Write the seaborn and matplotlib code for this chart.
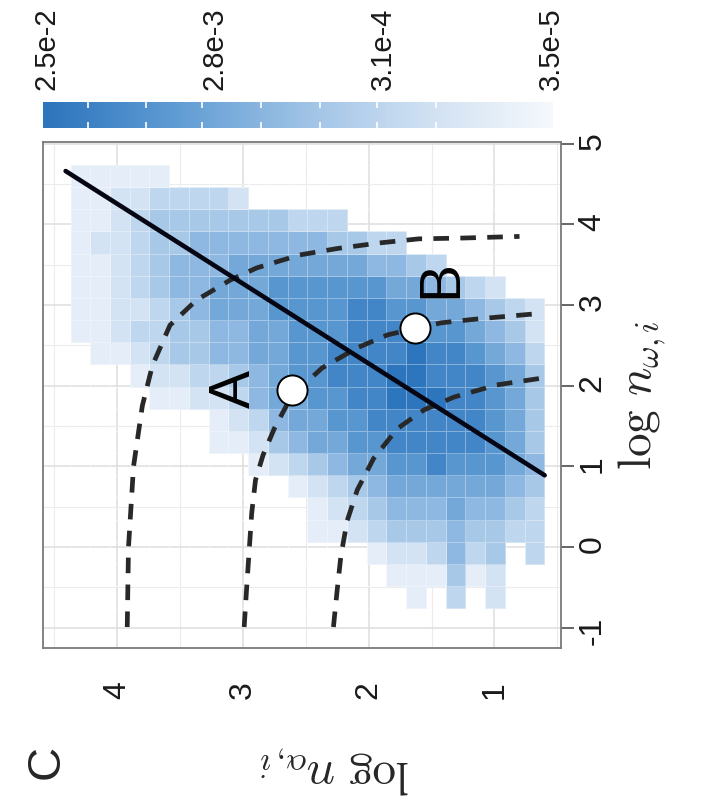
import numpy as np
import pandas as pd
import matplotlib
matplotlib.use("Agg")
import matplotlib.pyplot as plt
import seaborn as sns
from matplotlib.colors import LinearSegmentedColormap, Normalize
from matplotlib.ticker import MultipleLocator

# ---------------- data ----------------
# bin edges of the 2-D histogram (log n_alpha, log n_omega)
alpha_edges = [0.603, 0.760, 0.917, 1.074, 1.231, 1.388, 1.545, 1.702, 1.859,
               2.016, 2.173, 2.330, 2.487, 2.644, 2.801, 2.958, 3.115, 3.272,
               3.429, 3.586, 3.743, 3.900, 4.057, 4.214, 4.371]
omega_edges = [-0.756, -0.482, -0.207, 0.067, 0.342, 0.617, 0.891, 1.166,
               1.440, 1.715, 1.989, 2.264, 2.538, 2.813, 3.087, 3.362, 3.636,
               3.911, 4.185, 4.460, 4.734]

# intensity level per cell (0 = empty, 9 = darkest)
# rows: highest omega first; columns: highest alpha first
levels = [
    [1,1,1,1,1,0,0,0,0,0,0,0,0,0,0,0,0,0,0,0,0,0,0,0],
    [1,1,2,2,3,3,3,3,2,0,0,0,0,0,0,0,0,0,0,0,0,0,0,0],
    [1,1,2,3,4,4,4,4,4,4,4,3,3,3,0,0,0,0,0,0,0,0,0,0],
    [1,2,2,3,4,4,5,5,5,5,5,5,5,4,4,3,3,0,0,0,0,0,0,0],
    [1,1,2,3,4,5,5,5,6,6,6,6,6,6,6,5,5,4,3,0,0,0,0,0],
    [1,1,2,3,4,5,5,6,6,6,7,7,7,7,7,7,6,6,5,4,3,2,0,0],
    [1,1,2,2,3,4,5,6,6,6,7,7,7,7,8,8,7,7,6,6,5,4,3,2],
    [1,1,2,3,3,4,4,5,5,6,6,7,7,7,8,8,8,8,7,7,6,5,4,2],
    [0,1,1,2,3,4,4,5,5,6,6,7,7,8,8,8,8,9,8,8,7,6,5,3],
    [0,0,0,1,2,2,3,3,4,5,6,7,7,8,8,8,9,9,8,8,8,7,6,4],
    [0,0,0,0,1,1,2,2,3,5,6,6,7,7,8,8,9,9,9,8,8,7,6,4],
    [0,0,0,0,0,0,0,1,2,3,5,6,6,7,7,8,8,8,8,8,8,7,6,4],
    [0,0,0,0,0,0,0,1,1,2,4,5,6,6,7,7,8,8,8,8,8,7,6,4],
    [0,0,0,0,0,0,0,0,0,1,2,3,4,5,6,6,7,7,8,7,7,7,6,5],
    [0,0,0,0,0,0,0,0,0,0,0,1,2,3,4,5,6,6,6,6,6,6,5,4],
    [0,0,0,0,0,0,0,0,0,0,0,0,1,2,3,4,5,5,5,6,5,5,4,3],
    [0,0,0,0,0,0,0,0,0,0,0,0,1,1,2,3,4,4,4,5,4,4,3,3],
    [0,0,0,0,0,0,0,0,0,0,0,0,0,0,0,1,2,2,3,5,3,4,0,3],
    [0,0,0,0,0,0,0,0,0,0,0,0,0,0,0,0,1,1,1,4,1,2,0,0],
    [0,0,0,0,0,0,0,0,0,0,0,0,0,0,0,0,0,1,0,3,0,2,0,0],
]

# colour scale: log10 density at level 0 and level 9
log_dens_min = -4.46
log_dens_max = -1.60

# solid diagonal line
line_alpha = [0.60, 4.41]
line_omega = [0.89, 4.66]

# dashed curves
curve1_alpha = [3.92, 3.91, 3.87, 3.80, 3.72, 3.58, 3.37, 3.10, 2.89, 2.55,
                2.25, 1.91, 1.60, 1.25, 0.80]
curve1_omega = [-0.99, 0.00, 1.00, 1.75, 2.25, 2.75, 3.06, 3.31, 3.46, 3.62,
                3.70, 3.77, 3.82, 3.83, 3.85]
curve2_alpha = [2.99, 2.97, 2.95, 2.93, 2.90, 2.84, 2.75, 2.61, 2.37, 2.09,
                1.85, 1.63, 1.42, 1.12, 0.68]
curve2_omega = [-0.99, -0.50, -0.04, 0.42, 0.83, 1.14, 1.47, 1.88, 2.22, 2.47,
                2.63, 2.71, 2.78, 2.83, 2.89]
curve3_alpha = [2.28, 2.25, 2.22, 2.17, 2.09, 1.96, 1.77, 1.56, 1.32, 0.98, 0.64]
curve3_omega = [-0.99, -0.53, -0.10, 0.33, 0.71, 1.10, 1.47, 1.70, 1.86, 2.01, 2.09]

# marked points
point_names = ["A", "B"]
point_alpha = [2.61, 1.63]
point_omega = [1.95, 2.71]

cbar_values = [2.5e-2, 2.8e-3, 3.1e-4, 3.5e-5]
cbar_labels = ["2.5e-2", "2.8e-3", "3.1e-4", "3.5e-5"]
alpha_ticks = [1, 2, 3, 4]
omega_ticks = [-1, 0, 1, 2, 3, 4, 5]

# ---------------- table ----------------
n_cols = len(alpha_edges) - 1
n_rows = len(omega_edges) - 1
recs = []
for r, row in enumerate(levels):
    oi = n_rows - 1 - r
    for c, lev in enumerate(row):
        if lev > 0:
            ai = n_cols - 1 - c
            recs.append({
                "alpha": 0.5 * (alpha_edges[ai] + alpha_edges[ai + 1]),
                "omega": 0.5 * (omega_edges[oi] + omega_edges[oi + 1]),
                "level": lev,
            })
df = pd.DataFrame(recs)

# ---------------- style ----------------
sns.set_theme(style="white")
plt.rcParams["font.family"] = ["Liberation Sans", "DejaVu Sans"]
plt.rcParams["mathtext.fontset"] = "cm"

cmap = LinearSegmentedColormap.from_list(
    "blu", ["#f5f8fc", "#cfe0f2", "#9cc1e5", "#5e9bd3", "#2d75bd"])

W, H = 706, 807
fig = plt.figure(figsize=(W / 100, H / 100), dpi=100)
ax = fig.add_axes([43 / W, 1 - 648 / H, 518 / W, 506 / H])

sns.histplot(data=df, x="alpha", y="omega", weights="level",
             bins=[alpha_edges, omega_edges], cmap=cmap, vmin=0, vmax=9,
             edgecolor=(1, 1, 1, 0.35), linewidth=0.5, ax=ax, zorder=1)

for ca, co in [(curve1_alpha, curve1_omega), (curve2_alpha, curve2_omega),
               (curve3_alpha, curve3_omega)]:
    sns.lineplot(x=ca, y=co, sort=False, estimator=None, color="#282828",
                 linewidth=3.4, linestyle=(0, (3.3, 2.4)), ax=ax, zorder=3)

sns.lineplot(x=line_alpha, y=line_omega, sort=False, estimator=None,
             color="#050514", linewidth=3.3, ax=ax, zorder=4)

sns.scatterplot(x=point_alpha, y=point_omega, s=470, color="white",
                edgecolor="black", linewidth=1.4, ax=ax, zorder=5)

label_pos = {"A": (3.06, 1.96), "B": (1.42, 3.32)}
for name in point_names:
    la, lo = label_pos[name]
    ax.text(la, lo, name, rotation=90, ha="center", va="center",
            fontsize=41, color="black", zorder=6)

ax.set_xlim(4.59, 0.47)
ax.set_ylim(-1.25, 5.02)
ax.set_xticks(alpha_ticks)
ax.set_xticklabels([str(t) for t in alpha_ticks])
ax.set_yticks(omega_ticks)
ax.set_yticklabels([str(t) for t in omega_ticks])
ax.xaxis.set_minor_locator(MultipleLocator(0.5))
ax.yaxis.set_minor_locator(MultipleLocator(0.5))
ax.yaxis.tick_right()
ax.set_axisbelow(True)
ax.grid(which="major", color="#dedede", linewidth=1.1, linestyle="-")
ax.grid(which="minor", color="#ececec", linewidth=0.8, linestyle="-")
ax.tick_params(axis="both", which="major", direction="out", width=1.2,
               color="#4d4d4d", labelsize=23, labelcolor="#1a1a1a")
ax.tick_params(axis="x", labelrotation=90, length=12, pad=12)
ax.tick_params(axis="y", labelrotation=90, right=True, left=False,
               length=9, pad=3)
ax.tick_params(which="minor", length=0)
for sp in ax.spines.values():
    sp.set_visible(True)
    sp.set_color("#7a7a7a")
    sp.set_linewidth(1.3)
ax.set_xlabel("")
ax.set_ylabel("")

fig.text(335 / W, 1 - 770 / H, r"$\log\, n_{\alpha,i}$", rotation=180,
         ha="center", va="center", fontsize=34)
fig.text(642 / W, 1 - 395 / H, r"$\log\, n_{\omega,i}$", rotation=90,
         ha="center", va="center", fontsize=34)
fig.text(47 / W, 1 - 762 / H, "C", rotation=90, ha="center", va="center",
         fontsize=34)

# ---------------- colour bar ----------------
cax = fig.add_axes([43 / W, 1 - 128 / H, 510 / W, 26 / H])
v_lo, v_hi = -4.47, -1.58
grad = np.linspace(v_lo, v_hi, 600)[None, :]
cax.imshow(grad, extent=[v_lo, v_hi, 0, 1], aspect="auto", cmap=cmap,
           norm=Normalize(log_dens_min, log_dens_max))
cax.set_xlim(v_hi, v_lo)
cax.set_ylim(0, 1)
cax.set_xticks(np.log10(cbar_values))
cax.set_xticklabels(cbar_labels)
cax.set_xticks([-1.834, -2.161, -2.483, -2.817, -3.15, -3.47, -3.805],
               minor=True)
cax.set_yticks([])
cax.xaxis.tick_top()
cax.tick_params(axis="x", which="major", length=0, pad=9, labelsize=21,
                labelrotation=90, labelcolor="#1a1a1a")
cax.tick_params(axis="x", which="minor", direction="in", length=4, width=1.2,
                color="white", top=True, bottom=True)
for sp in cax.spines.values():
    sp.set_visible(False)

fig.savefig("out.png", dpi=100)
